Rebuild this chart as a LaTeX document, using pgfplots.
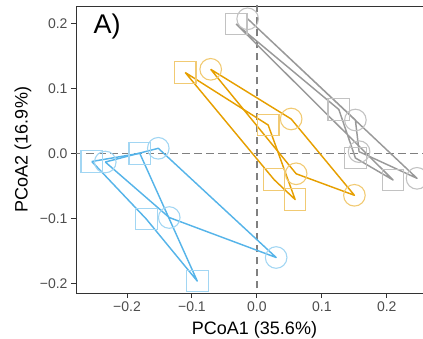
\documentclass[border=0pt]{standalone}
\usepackage{fontspec}
\setmainfont{Liberation Sans}
\usepackage{pgfplots}
\pgfplotsset{compat=1.18}

\definecolor{sky}{HTML}{56B4E9}
\definecolor{amber}{HTML}{E69F00}
\definecolor{stone}{HTML}{999999}
\definecolor{ink20}{HTML}{333333}
\definecolor{ink30}{HTML}{4D4D4D}
\definecolor{refgrey}{HTML}{808080}

\begin{document}
\begin{tikzpicture}
\begin{axis}[
  scale only axis, width=357pt, height=287pt,
  xmin=-0.2785, xmax=0.2712, ymin=-0.2149, ymax=0.2266,
  axis line style={ink20, line width=0.9pt},
  tick pos=left, tick align=outside, major tick length=5pt,
  major tick style={ink20, line width=0.9pt},
  xtick={-0.2,-0.1,0,0.1,0.2},
  xticklabels={−0.2,−0.1,0.0,0.1,0.2},
  ytick={-0.2,-0.1,0,0.1,0.2},
  yticklabels={−0.2,−0.1,0.0,0.1,0.2},
  ticklabel style={font=\fontsize{14}{16}\selectfont, text=ink30},
  xlabel={PCoA1 (35.6\%)}, ylabel={PCoA2 (16.9\%)},
  label style={font=\fontsize{18}{21}\selectfont, text=black},
  xlabel style={at={(axis description cs:0.5,-0.1429)}, anchor=base},
  ylabel style={at={(axis description cs:-0.1485,0.5)}, anchor=center},
  clip=true,
]
% zero reference lines
\addplot[refgrey, line width=1.4pt, dash pattern=on 7.5pt off 4.5pt] coordinates {(0,-0.3) (0,0.3)};
\addplot[refgrey, line width=1.4pt, dash pattern=on 7.5pt off 4.5pt] coordinates {(-0.3,0) (0.3,0)};

% open markers: squares and circles per group
\addplot[only marks, mark=square, mark size=10.8pt, mark options={line width=1.1pt, draw=sky!55!white}]
  coordinates {(-0.2542,-0.0126) (-0.1803,0.0) (-0.1703,-0.1011) (-0.0918,-0.1965)};
\addplot[only marks, mark=o, mark size=10.8pt, mark options={line width=1.1pt, draw=sky!55!white}]
  coordinates {(-0.2334,-0.0134) (-0.1518,0.0077) (-0.1349,-0.0988) (0.0297,-0.1603)};
\addplot[only marks, mark=square, mark size=10.8pt, mark options={line width=1.1pt, draw=amber!55!white}]
  coordinates {(-0.1103,0.1243) (0.0174,0.0435) (0.0266,-0.0406) (0.0589,-0.0711)};
\addplot[only marks, mark=o, mark size=10.8pt, mark options={line width=1.1pt, draw=amber!55!white}]
  coordinates {(-0.0711,0.1292) (0.0528,0.0528) (0.0605,-0.0315) (0.1502,-0.0646)};
\addplot[only marks, mark=square, mark size=10.8pt, mark options={line width=1.1pt, draw=stone!60!white}]
  coordinates {(-0.0318,0.1989) (0.1262,0.0674) (0.1517,-0.0072) (0.2097,-0.0411)};
\addplot[only marks, mark=o, mark size=10.8pt, mark options={line width=1.1pt, draw=stone!60!white}]
  coordinates {(-0.0142,0.2069) (0.1517,0.0512) (0.1574,0.0025) (0.2466,-0.0385)};

% closed paths joining the samples of each group
\addplot[sky, line width=1.45pt, line join=round, no marks]
  coordinates {(-0.2542,-0.0126) (-0.1803,0.0) (-0.0918,-0.1965) (-0.1703,-0.1011) (-0.2542,-0.0126)};
\addplot[sky, line width=1.45pt, line join=round, no marks]
  coordinates {(-0.2334,-0.0134) (-0.1518,0.0077) (0.0297,-0.1603) (-0.1349,-0.0988) (-0.2334,-0.0134)};
\addplot[amber, line width=1.45pt, line join=round, no marks]
  coordinates {(-0.1103,0.1243) (0.0174,0.0435) (0.0589,-0.0711) (0.0266,-0.0406) (-0.1103,0.1243)};
\addplot[amber, line width=1.45pt, line join=round, no marks]
  coordinates {(-0.0711,0.1292) (0.0528,0.0528) (0.1502,-0.0646) (0.0605,-0.0315) (-0.0711,0.1292)};
\addplot[stone, line width=1.45pt, line join=round, no marks]
  coordinates {(-0.0318,0.1989) (0.1262,0.0674) (0.1517,-0.0072) (0.2097,-0.0411) (-0.0318,0.1989)};
\addplot[stone, line width=1.45pt, line join=round, no marks]
  coordinates {(-0.0142,0.2069) (0.1517,0.0512) (0.1574,0.0025) (0.2466,-0.0385) (-0.0142,0.2069)};

\node[anchor=base west, font=\fontsize{27}{30}\selectfont, inner sep=0pt]
  at (axis description cs:0.0485,0.9049) {A)};
\end{axis}
\pgfresetboundingbox
\path[use as bounding box] (-76pt,-46pt) rectangle (347pt,293pt);
\end{tikzpicture}
\end{document}
